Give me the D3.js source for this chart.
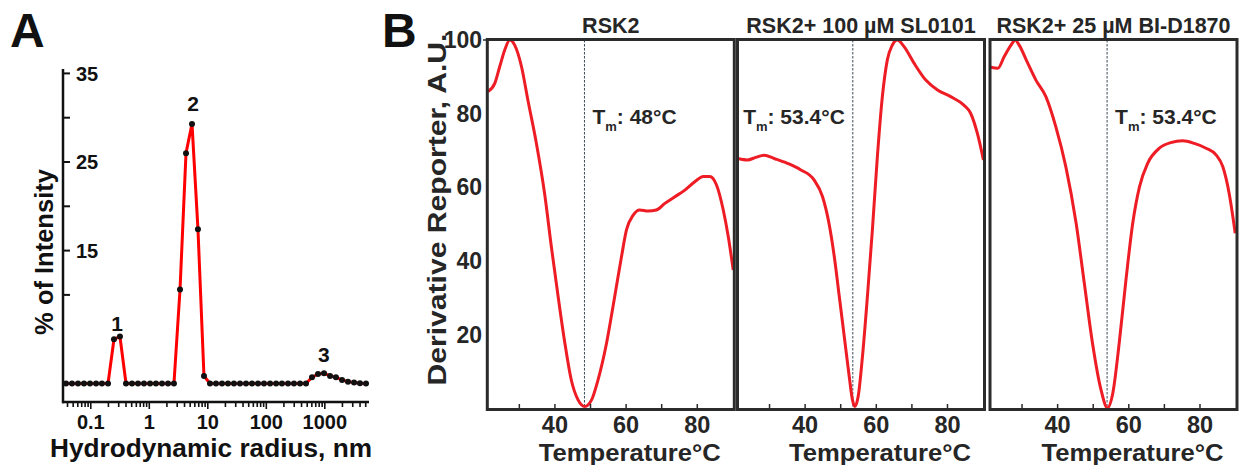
<!DOCTYPE html>
<html>
<head>
<meta charset="utf-8">
<script src="https://cdn.jsdelivr.net/npm/d3@7"></script>
<style>
  html, body { margin: 0; padding: 0; background: #fff; }
  svg { display: block; font-family: "Liberation Sans", Arial, sans-serif; font-weight: bold; }
</style>
</head>
<body>
<svg id="chart" width="1243" height="465"></svg>
<script>
// ---- Panel A: DLS intensity distribution ----
const radiusNm = [
  0.0377, 0.0477, 0.0604, 0.0766, 0.0969, 0.123, 0.155, 0.197, 0.249, 0.315,
  0.400, 0.506, 0.641, 0.811, 1.03, 1.30, 1.65, 2.09, 2.64, 3.35,
  4.24, 5.37, 6.79, 8.60, 10.9, 13.8, 17.5, 22.1, 28.0, 35.5,
  45.0, 56.9, 72.1, 91.3, 116, 147, 185, 235, 297, 377,
  477, 604, 765, 969, 1230, 1550, 1970, 2490, 3160, 3990, 5060
];
const intensityPct = [
  0, 0, 0, 0, 0, 0, 0, 0, 5.0, 5.3,
  0, 0, 0, 0, 0, 0, 0, 0, 0, 10.6,
  26.0, 29.3, 17.4, 0.85, 0, 0, 0, 0, 0, 0,
  0, 0, 0, 0, 0, 0, 0, 0, 0, 0,
  0, 0.7, 1.07, 1.15, 0.85, 0.7, 0.4, 0.21, 0.1, 0.02, 0
];
const peakNames = ["1", "2", "3"];
const peakRadius = [0.282, 5.6, 960];
const peakTop = [5.9, 30.7, 2.4];
const radiusTickLabels = [0.1, 1, 10, 100, 1000];
const intensityTicks = [10, 15, 20, 25, 30, 35];
const intensityLabels = [15, 25, 35];

// ---- Panel B: thermal shift derivative curves ----
const rsk2Temp = [21.2, 23.1, 24.5, 25.9, 27.3, 28.7, 30.6, 32.4, 34.8, 37.1, 39.0, 40.9, 42.8, 44.6, 46.5, 48.4,
  50.3, 52.1, 54.5, 56.8, 58.7, 60.1, 62.0, 63.8, 66.2, 68.5, 70.9, 73.7, 76.5, 79.3, 81.7, 83.5, 85.4, 87.3, 88.7, 90.1];
const rsk2Deriv = [86.0, 88.2, 92.8, 97.3, 100, 98.6, 92.8, 83.7, 71.9, 58.3, 43.8, 30.3, 17.6, 7.6, 2.2, 0.4,
  2.2, 7.6, 17.6, 30.3, 41.1, 48.4, 52.4, 53.8, 53.5, 53.8, 55.6, 57.4, 59.2, 61.5, 62.9, 62.9, 60.6, 53.8, 46.6, 37.5];

const sl0101Temp = [21.2, 23.8, 26.1, 28.5, 31.3, 35.0, 38.8, 42.5, 44.9, 46.7, 48.2, 49.6, 51.0, 52.4, 53.3, 54.0,
  54.9, 56.1, 57.5, 58.9, 60.3, 61.7, 63.1, 64.5, 65.9, 67.8, 70.6, 73.9, 77.2, 80.9, 84.6, 86.5, 88.4, 90.1];
const sl0101Deriv = [67.8, 67.4, 68.1, 68.7, 67.8, 66.5, 64.7, 62.0, 57.4, 50.2, 41.1, 30.3, 19.4, 8.5, 2.2, 0.4,
  3.1, 13.9, 30.3, 48.4, 68.3, 84.6, 94.6, 98.6, 100, 98.2, 93.7, 89.1, 86.4, 84.6, 82.3, 80.1, 74.6, 67.4];

const bid1870Temp = [21.2, 23.2, 25.0, 26.9, 28.1, 29.2, 31.6, 33.9, 36.7, 39.5, 42.3, 45.2, 47.5, 49.8, 52.2, 54.0,
  55.5, 57.3, 59.2, 61.1, 63.0, 65.3, 68.6, 71.8, 75.1, 78.4, 81.7, 84.5, 86.4, 88.2, 89.9];
const bid1870Deriv = [92.6, 92.3, 95.5, 98.6, 100, 98.6, 93.7, 89.1, 84.6, 76.4, 65.6, 50.2, 33.9, 17.6, 4.9, 0,
  4.0, 17.6, 34.8, 50.2, 60.1, 66.5, 70.6, 72.1, 72.6, 71.9, 70.6, 68.8, 65.6, 58.3, 47.5];

const panelTitles = ["RSK2", "RSK2+ 100 \u00B5M SL0101", "RSK2+ 25 \u00B5M BI-D1870"];
const tmValues = ["48\u00B0C", "53.4\u00B0C", "53.4\u00B0C"];
const tmLineAt = [48.3, 53.4, 53.9];
const tmLabelSide = ["right", "left", "right"];
const derivTicks = [20, 40, 60, 80, 100];
const tempTicks = [30, 40, 50, 60, 70, 80];
const tempLabels = [40, 60, 80];

const svg = d3.select("#chart");
const INK_A = "#111";
const INK_B = "#262626";

// panel letters
svg.append("text").attr("x", 10).attr("y", 47).attr("font-size", 48).attr("fill", INK_A).text("A");
svg.append("text").attr("x", 382).attr("y", 47).attr("font-size", 48).attr("fill", INK_A).text("B");

// ================= Panel A =================
const xA = d3.scaleLog().domain([0.0335, 5470]).range([63, 368]);
const yA = d3.scaleLinear().domain([0, 35]).range([383.5, 73.4]);
const axisBottomY = 402;

const gA = svg.append("g");

// y axis line + inward ticks
gA.append("line")
  .attr("x1", 63).attr("x2", 63).attr("y1", 69).attr("y2", axisBottomY + 1.2)
  .attr("stroke", INK_A).attr("stroke-width", 2.5);
gA.selectAll("line.ytick").data(intensityTicks).enter().append("line")
  .attr("x1", 63).attr("x2", 70)
  .attr("y1", (d) => yA(d)).attr("y2", (d) => yA(d))
  .attr("stroke", INK_A).attr("stroke-width", 2);
gA.selectAll("text.ylab").data(intensityLabels).enter().append("text")
  .attr("x", 76).attr("y", (d) => yA(d)).attr("dy", "0.36em")
  .attr("font-size", 20).attr("fill", INK_A).text((d) => d);

// x axis (log) with minor ticks
const logTicks = [];
d3.range(-2, 4).forEach((e) => {
  d3.range(1, 10).forEach((m) => {
    const v = m * Math.pow(10, e);
    if (v >= 0.0335 && v <= 5470) logTicks.push(v);
  });
});
gA.append("line")
  .attr("x1", 62).attr("x2", 369).attr("y1", axisBottomY).attr("y2", axisBottomY)
  .attr("stroke", INK_A).attr("stroke-width", 2.5);
gA.selectAll("line.xtick").data(logTicks).enter().append("line")
  .attr("x1", (d) => xA(d)).attr("x2", (d) => xA(d))
  .attr("y1", axisBottomY)
  .attr("y2", (d) => axisBottomY + (radiusTickLabels.includes(+d.toPrecision(3)) ? 7 : 5))
  .attr("stroke", INK_A).attr("stroke-width", 1.6);
gA.selectAll("text.xlab").data(radiusTickLabels).enter().append("text")
  .attr("x", (d) => xA(d)).attr("y", 429)
  .attr("text-anchor", "middle").attr("font-size", 20).attr("fill", INK_A)
  .text((d) => d);

gA.append("text")
  .attr("x", 211).attr("y", 457).attr("text-anchor", "middle")
  .attr("font-size", 25.5).attr("fill", INK_A)
  .attr("textLength", 322).attr("lengthAdjust", "spacingAndGlyphs")
  .text("Hydrodynamic radius, nm");
gA.append("text")
  .attr("transform", "translate(53,252) rotate(-90)")
  .attr("text-anchor", "middle").attr("font-size", 25.5).attr("fill", INK_A)
  .text("% of Intensity");

// distribution line + points
const dlsData = radiusNm.map((r, i) => ({ r, v: intensityPct[i] }));
const dlsLine = d3.line().x((d) => xA(d.r)).y((d) => yA(d.v));
gA.append("path")
  .attr("d", dlsLine(dlsData))
  .attr("fill", "none").attr("stroke", "#ff0000")
  .attr("stroke-width", 3).attr("stroke-linejoin", "round");
gA.selectAll("circle.pt").data(dlsData).enter().append("circle")
  .attr("cx", (d) => xA(d.r)).attr("cy", (d) => yA(d.v))
  .attr("r", 3).attr("fill", "#111");

gA.selectAll("text.peak").data(peakNames).enter().append("text")
  .attr("x", (d, i) => xA(peakRadius[i])).attr("y", (d, i) => yA(peakTop[i]))
  .attr("text-anchor", "middle").attr("font-size", 21).attr("fill", INK_A)
  .text((d) => d);

// ================= Panel B =================
const series = [
  { temp: rsk2Temp, deriv: rsk2Deriv },
  { temp: sl0101Temp, deriv: sl0101Deriv },
  { temp: bid1870Temp, deriv: bid1870Deriv },
];
const panelLeft = [487.3, 737.5, 990];
const panelW = 247;
const yB = d3.scaleLinear().domain([0, 100]).range([408, 40]);

series.forEach((s, i) => {
  const x0 = panelLeft[i];
  const xB = d3.scaleLinear().domain([21, 90.4]).range([x0, x0 + panelW]);
  const g = svg.append("g");

  // Tm dashed line
  g.append("line")
    .attr("x1", xB(tmLineAt[i])).attr("x2", xB(tmLineAt[i]))
    .attr("y1", yB(100)).attr("y2", yB(0))
    .attr("stroke", "#3c4a5a").attr("stroke-width", 1)
    .attr("stroke-dasharray", "2.5,1.5");

  // curve
  const pts = s.temp.map((t, j) => [t, s.deriv[j]]);
  g.append("path")
    .attr("d", d3.line().x((d) => xB(d[0])).y((d) => yB(d[1])).curve(d3.curveMonotoneX)(pts))
    .attr("fill", "none").attr("stroke", "#ee1c24").attr("stroke-width", 3);

  // frame
  g.append("rect")
    .attr("x", x0).attr("y", 39.5).attr("width", panelW).attr("height", 370)
    .attr("fill", "none").attr("stroke", "#2b2b2b").attr("stroke-width", 3);

  // x ticks (inward) and labels
  g.selectAll("line.tt").data(tempTicks).enter().append("line")
    .attr("x1", (d) => xB(d)).attr("x2", (d) => xB(d))
    .attr("y1", 409).attr("y2", 404)
    .attr("stroke", "#2b2b2b").attr("stroke-width", 1.5);
  g.selectAll("text.tl").data(tempLabels).enter().append("text")
    .attr("x", (d) => xB(d)).attr("y", 433)
    .attr("text-anchor", "middle").attr("font-size", 23.5).attr("fill", INK_B)
    .text((d) => d);

  g.append("text")
    .attr("x", x0 + panelW / 2 + 19).attr("y", 461)
    .attr("text-anchor", "middle").attr("font-size", 24.5).attr("fill", INK_B)
    .attr("textLength", 182).attr("lengthAdjust", "spacingAndGlyphs")
    .text("Temperature\u00B0C");

  // title
  g.append("text")
    .attr("x", x0 + panelW / 2).attr("y", 33)
    .attr("text-anchor", "middle").attr("font-size", 21.5).attr("fill", INK_B)
    .text(panelTitles[i]);

  // Tm label
  const right = tmLabelSide[i] === "right";
  const tm = g.append("text")
    .attr("x", xB(tmLineAt[i]) + (right ? 8 : -8)).attr("y", yB(77.2))
    .attr("text-anchor", right ? "start" : "end")
    .attr("font-size", 21).attr("fill", INK_B);
  tm.append("tspan").text("T");
  tm.append("tspan").attr("font-size", 13).attr("dy", 7).text("m");
  tm.append("tspan").attr("dy", -7).text(": " + tmValues[i]);
});

// shared y axis labels for B
svg.selectAll("text.dl").data(derivTicks).enter().append("text")
  .attr("x", 482).attr("y", (d) => yB(d)).attr("dy", "0.36em")
  .attr("text-anchor", "end").attr("font-size", 23).attr("fill", INK_B)
  .text((d) => d);
svg.append("line")
  .attr("x1", 483).attr("x2", 487).attr("y1", yB(100)).attr("y2", yB(100))
  .attr("stroke", "#2b2b2b").attr("stroke-width", 1.5);
svg.append("text")
  .attr("transform", `translate(446,${(32 + 387) / 2}) rotate(-90)`)
  .attr("text-anchor", "middle").attr("font-size", 26).attr("fill", INK_B)
  .attr("textLength", 352).attr("lengthAdjust", "spacingAndGlyphs")
  .text("Derivative Reporter, A.U.");
</script>
</body>
</html>
